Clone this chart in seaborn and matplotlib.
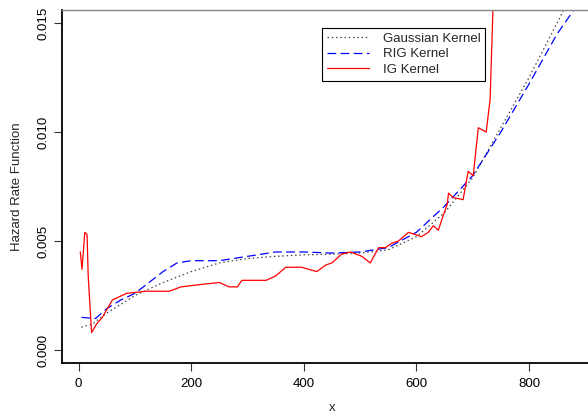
import numpy as np
import pandas as pd
import matplotlib
matplotlib.use('Agg')
import matplotlib.pyplot as plt
import seaborn as sns

sns.set_theme(style="ticks")
plt.rcParams['font.family'] = ['Liberation Sans', 'DejaVu Sans']

# Valeurs
gauss_x = [5, 25, 50, 75, 100, 150, 200, 250, 300, 350, 400, 450, 500, 550, 600, 650, 700, 750, 800, 850, 875]
gauss_y = [0.00105, 0.0012, 0.0017, 0.0021, 0.0025, 0.0031, 0.0036, 0.0040, 0.0042, 0.0043, 0.00437,
           0.0044, 0.00445, 0.0046, 0.0052, 0.0063, 0.0079, 0.0102, 0.0125, 0.0150, 0.0163]

rig_x = [5, 30, 50, 75, 100, 125, 150, 175, 200, 250, 300, 350, 400, 450, 500, 550, 600, 650, 700, 750, 800, 850, 885]
rig_y = [0.0015, 0.00145, 0.0019, 0.0023, 0.0026, 0.0031, 0.0036, 0.0040, 0.0041, 0.0041, 0.0043, 0.0045,
         0.0045, 0.00445, 0.0045, 0.0047, 0.0054, 0.0066, 0.0080, 0.0100, 0.0122, 0.0145, 0.0158]

ig_x = [3, 6, 11, 15, 17, 23, 32, 42, 60, 85, 120, 161, 182, 214, 250, 267, 282, 290, 333, 350, 368,
        386, 396, 423, 439, 450, 467, 483, 503, 518, 533, 545, 556, 568, 586, 598, 609, 621, 630, 639,
        648, 655, 657, 665, 683, 692, 701, 710, 724, 731, 736, 742]
ig_y = [0.0045, 0.0037, 0.0054, 0.0053, 0.0034, 0.0008, 0.0012, 0.0015, 0.0023, 0.0026, 0.0027, 0.0027,
        0.0029, 0.0030, 0.0031, 0.0029, 0.0029, 0.0032, 0.0032, 0.0034, 0.0038, 0.0038, 0.0038, 0.0036,
        0.0039, 0.0040, 0.0044, 0.0045, 0.0043, 0.0040, 0.0047, 0.0047, 0.0049, 0.0050, 0.0054, 0.0053,
        0.0052, 0.0054, 0.0057, 0.0055, 0.0062, 0.0067, 0.0072, 0.0070, 0.0069, 0.0082, 0.0080, 0.0102,
        0.0100, 0.0115, 0.0156, 0.0175]

fig = plt.figure(figsize=(5.88, 4.16), dpi=100)
ax = fig.add_axes([0.105, 0.127, 0.92, 0.849])

sns.lineplot(x=gauss_x, y=gauss_y, ax=ax, color='#444444', lw=0.9, label='Gaussian Kernel',
             linestyle=(0, (1.2, 2.2)), sort=False)
sns.lineplot(x=rig_x, y=rig_y, ax=ax, color='#0000ff', lw=0.9, label='RIG Kernel',
             linestyle=(0, (7, 3.5)), sort=False)
sns.lineplot(x=ig_x, y=ig_y, ax=ax, color='#ff0000', lw=0.9, label='IG Kernel', sort=False)

ax.set_xlim(-30, 931)
ax.set_ylim(-0.0006, 0.0156)
ax.set_xticks([0, 200, 400, 600, 800])
ax.set_yticks([0.0, 0.005, 0.010, 0.015])
ax.set_yticklabels(['0.000', '0.005', '0.010', '0.015'], rotation=90, va='center')
ax.tick_params(axis='both', length=6, width=0.8, colors='#333333', labelcolor='black', labelsize=9.5)
ax.tick_params(axis='y', pad=3)
ax.tick_params(axis='x', pad=5)

ax.spines['left'].set_color('black')
ax.spines['left'].set_linewidth(1.3)
ax.spines['bottom'].set_color('black')
ax.spines['bottom'].set_linewidth(1.3)
ax.spines['top'].set_color('#888888')
ax.spines['top'].set_linewidth(1.0)
ax.spines['right'].set_visible(False)

ax.set_xlabel('x', fontsize=9.5, labelpad=8)
ax.set_ylabel('Hazard Rate Function', fontsize=9.5, labelpad=10)

leg = ax.legend(loc='upper left', bbox_to_anchor=(0.482, 0.949), borderaxespad=0, fontsize=9.5,
                fancybox=False, framealpha=1, edgecolor='black', handlelength=3.2,
                handletextpad=1.0, borderpad=0.35, labelspacing=0.25)
leg.get_frame().set_linewidth(0.8)

fig.savefig('out.png', dpi=100)
